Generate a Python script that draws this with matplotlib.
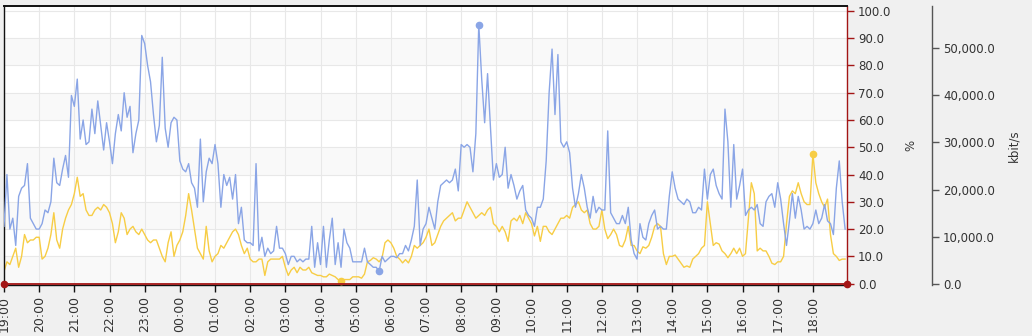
import numpy as np
import matplotlib
matplotlib.use("Agg")
import matplotlib.pyplot as plt

# ---------------- data (5-minute samples, 19:00 -> 18:55) ----------------
hour_labels = ["19:00", "20:00", "21:00", "22:00", "23:00", "00:00", "01:00", "02:00",
               "03:00", "04:00", "05:00", "06:00", "07:00", "08:00", "09:00", "10:00",
               "11:00", "12:00", "13:00", "14:00", "15:00", "16:00", "17:00", "18:00"]

blue_pct = [
    21, 40, 20, 24, 14, 32, 35, 36, 44, 24, 22, 20,      # 19
    20, 22, 27, 26, 30, 46, 37, 36, 42, 47, 39, 69,      # 20
    65, 75, 53, 60, 51, 52, 64, 55, 67, 58, 49, 59,      # 21
    52, 44, 55, 62, 56, 70, 61, 65, 48, 55, 60, 91,      # 22
    88, 80, 74, 62, 52, 58, 83, 57, 50, 59, 61, 60,      # 23
    45, 42, 41, 44, 37, 35, 28, 53, 30, 41, 46, 44,      # 00
    51, 44, 28, 40, 36, 39, 31, 40, 22, 28, 16, 15,      # 01
    15, 14, 44, 12, 17, 10, 13, 11, 12, 21, 13, 13,      # 02
    11, 7, 10, 10, 8, 9, 8, 9, 9, 21, 6, 15,             # 03
    7, 21, 6, 16, 24, 7, 15, 6, 20, 15, 13, 8,           # 04
    8, 8, 8, 13, 8, 7, 6, 6, 4.5, 10, 8, 9,              # 05
    10, 10, 9.5, 11, 11, 14, 12, 16, 21, 38, 14, 20,     # 06
    22, 28, 24, 20, 30, 36, 37, 38, 37, 38, 42, 34,      # 07
    51, 50, 51, 50, 41, 55, 95, 75, 59, 77, 57, 38,      # 08
    44, 39, 40, 50, 35, 40, 36, 31, 34, 36, 27, 25,      # 09
    24, 21, 28, 28, 31, 45, 70, 86, 62, 84, 52, 50,      # 10
    52, 48, 35, 28, 33, 40, 35, 28, 24, 32, 26, 28,      # 11
    27, 27, 56, 26, 24, 22, 22, 25, 22, 28, 16, 11,      # 12
    9, 22, 17, 16, 22, 25, 27, 20, 21, 20, 20, 32,       # 13
    41, 35, 31, 30, 29, 31, 30, 26, 26, 28, 27, 42,      # 14
    31, 40, 42, 36, 33, 31, 64, 52, 28, 51, 31, 36,      # 15
    42, 25, 27, 28, 27, 29, 22, 21, 30, 32, 33, 28,      # 16
    37, 31, 22, 14, 23, 33, 24, 32, 27, 20, 21, 20,      # 17
    22, 27, 22, 24, 29, 23, 22, 18, 35, 45, 30, 20,      # 18
]

yellow_pct = [
    4.5, 8, 7, 10, 13, 6, 10, 18, 15, 16, 16, 17,        # 19
    17, 9, 10, 13, 18, 26, 16, 13, 20, 24, 27, 29,       # 20
    33, 39, 32, 33, 27, 25, 25, 27, 28, 27, 29, 28,      # 21
    26, 22, 15, 19, 26, 24, 18, 20, 21, 19, 18, 20,      # 22
    18, 16, 15, 16, 16, 13, 10, 8, 15, 19, 10, 14,       # 23
    16, 19, 25, 33, 27, 20, 13, 11, 9, 21, 12, 8,        # 00
    10, 11, 14, 13, 15, 17, 19, 20, 18, 14, 11, 13,      # 01
    9, 8, 8, 9, 9, 3, 8, 9, 9, 9, 9, 10,                 # 02
    6, 3, 5, 6, 4, 6, 5, 5, 6, 4, 3.5, 3,                # 03
    3, 2.5, 2.5, 3.5, 3, 2.5, 1.5, 0.8, 1.5, 1.5, 1.5, 2.5,  # 04
    2.5, 2.5, 2, 3.5, 8, 8.5, 9.5, 9, 8, 9.5, 15, 16,    # 05
    15, 13, 10, 9, 7.6, 8.8, 7.6, 10, 14, 13, 14, 15,    # 06
    17, 20, 14, 15, 18, 21, 23, 24, 25, 26, 23, 24,      # 07
    24, 27, 30, 28, 26, 24, 25, 26, 25, 27, 28, 22,      # 08
    21, 19, 21, 19, 15.5, 23, 24, 23, 25, 22, 26, 24,    # 09
    22, 17.5, 21, 15.5, 21, 21, 19, 18, 20, 22, 24, 24,  # 10
    25, 24, 28, 29, 30, 27, 26, 27, 22, 20, 20, 21,      # 11
    27, 20, 16.5, 18, 20, 18, 14, 13.5, 16, 21, 14, 14,  # 12
    12, 11, 13.5, 13, 14, 17, 21, 22, 21, 11, 7, 10,     # 13
    10, 10.5, 9, 7.5, 6, 6.5, 6, 9, 10, 11, 13, 14,      # 14
    30, 22, 14, 15, 14.5, 12, 11, 9.5, 11, 13, 11, 13,   # 15
    10, 11, 24, 37, 33, 12, 13, 12, 12, 10, 7.5, 7,      # 16
    8, 8, 10, 22, 32, 34, 33, 37, 33, 30, 29, 29,        # 17
    47.5, 37, 33, 30, 28, 31, 18, 11, 10, 8.5, 9, 9,     # 18
]

baseline_pct = 0.0
samples_per_hour = 12
kbit_ticks = [0, 10000, 20000, 30000, 40000, 50000]
pct_ticks = [0, 10, 20, 30, 40, 50, 60, 70, 80, 90, 100]

# ---------------- style ----------------
BLUE = "#8aa5e6"
YELLOW = "#f7cd45"
RED = "#a31515"
TXT = "#333333"
W, H = 1032, 336

fig = plt.figure(figsize=(W / 100, H / 100), dpi=100, facecolor="#f0f0f0")
ax = fig.add_axes([4 / W, (H - 285) / H, (847 - 4) / W, (285 - 6) / H])
ax.set_facecolor("white")
ax2 = ax.twinx()

blue = np.array(blue_pct, dtype=float)
yellow = np.array(yellow_pct, dtype=float)
t = np.arange(len(blue)) / samples_per_hour

ymin, ymax = -0.5, 101.8
ax.set_ylim(ymin, ymax)
xmax = 23.97
ax.set_xlim(0, xmax)

# alternating horizontal bands
for k, lo in enumerate(pct_ticks[:-1]):
    if k % 2 == 0:
        ax.axhspan(lo, lo + 10, color="#f9f9f9", zorder=0, lw=0)

# grid
for v in pct_ticks:
    ax.axhline(v, color="#e8e8e8", lw=0.8, zorder=0.5)
for h in range(len(hour_labels)):
    ax.axvline(h, color="#e8e8e8", lw=0.8, zorder=0.5)

ax.plot(t, yellow, color=YELLOW, lw=1.0, zorder=2)
ax.plot(t, blue, color=BLUE, lw=1.0, zorder=3)

# min / max markers
for arr, col in ((blue, BLUE), (yellow, YELLOW)):
    for i in (int(np.argmax(arr)), int(np.argmin(arr))):
        ax.plot(t[i], arr[i], "o", color=col, ms=4.5, zorder=4)

# baseline with end dots
ax.plot([t[0], xmax], [baseline_pct, baseline_pct], color=RED, lw=1.3, zorder=5,
        clip_on=False)
ax.plot([t[0], xmax], [baseline_pct, baseline_pct], "o", color=RED, ms=4.5,
        zorder=6, clip_on=False)

# spines
for s in ("top", "left", "bottom"):
    ax.spines[s].set_color("#111111")
ax.spines["top"].set_linewidth(1.4)
ax.spines["left"].set_linewidth(1.0)
ax.spines["bottom"].set_linewidth(1.0)
ax.spines["right"].set_color(RED)
ax.spines["right"].set_linewidth(1.0)

# y axis (%) on right
ax.yaxis.tick_right()
ax.yaxis.set_label_position("right")
ax.set_yticks(pct_ticks)
ax.set_yticklabels([f"{v:.1f}" for v in pct_ticks])
ax.tick_params(axis="y", which="both", left=False, labelleft=False,
               right=True, labelright=True, colors=RED, labelcolor=TXT,
               length=5, width=1, labelsize=8.5, pad=3)
ax.set_ylabel("%", color=TXT, fontsize=8.5, labelpad=9)

# x axis
ax.set_xticks(range(len(hour_labels)))
ax.set_xticklabels(hour_labels, rotation=90)
ax.tick_params(axis="x", colors="#111111", labelcolor=TXT, length=5, width=1,
               labelsize=9, pad=3)
for lab in ax.get_xticklabels():
    lab.set_va("top")

# second axis kbit/s
px_per_10k = 47.2
kb_per_px = 10000 / px_per_10k
ax2.set_ylim(-1 * kb_per_px, (284 - 6) * kb_per_px)
for s in ("top", "left", "bottom"):
    ax2.spines[s].set_visible(False)
ax2.spines["right"].set_position(("outward", 85 * 0.72))
ax2.spines["right"].set_color("#555555")
ax2.spines["right"].set_linewidth(1.0)
ax2.set_yticks(kbit_ticks)
ax2.set_yticklabels([f"{v:,.1f}" for v in kbit_ticks])
ax2.tick_params(axis="y", colors="#555555", labelcolor=TXT, length=5, width=1,
                labelsize=8.5, pad=3)
ax2.set_ylabel("kbit/s", color=TXT, fontsize=8.5, labelpad=9)
ax2.patch.set_visible(False)

fig.savefig("out.png", dpi=100, facecolor=fig.get_facecolor())
